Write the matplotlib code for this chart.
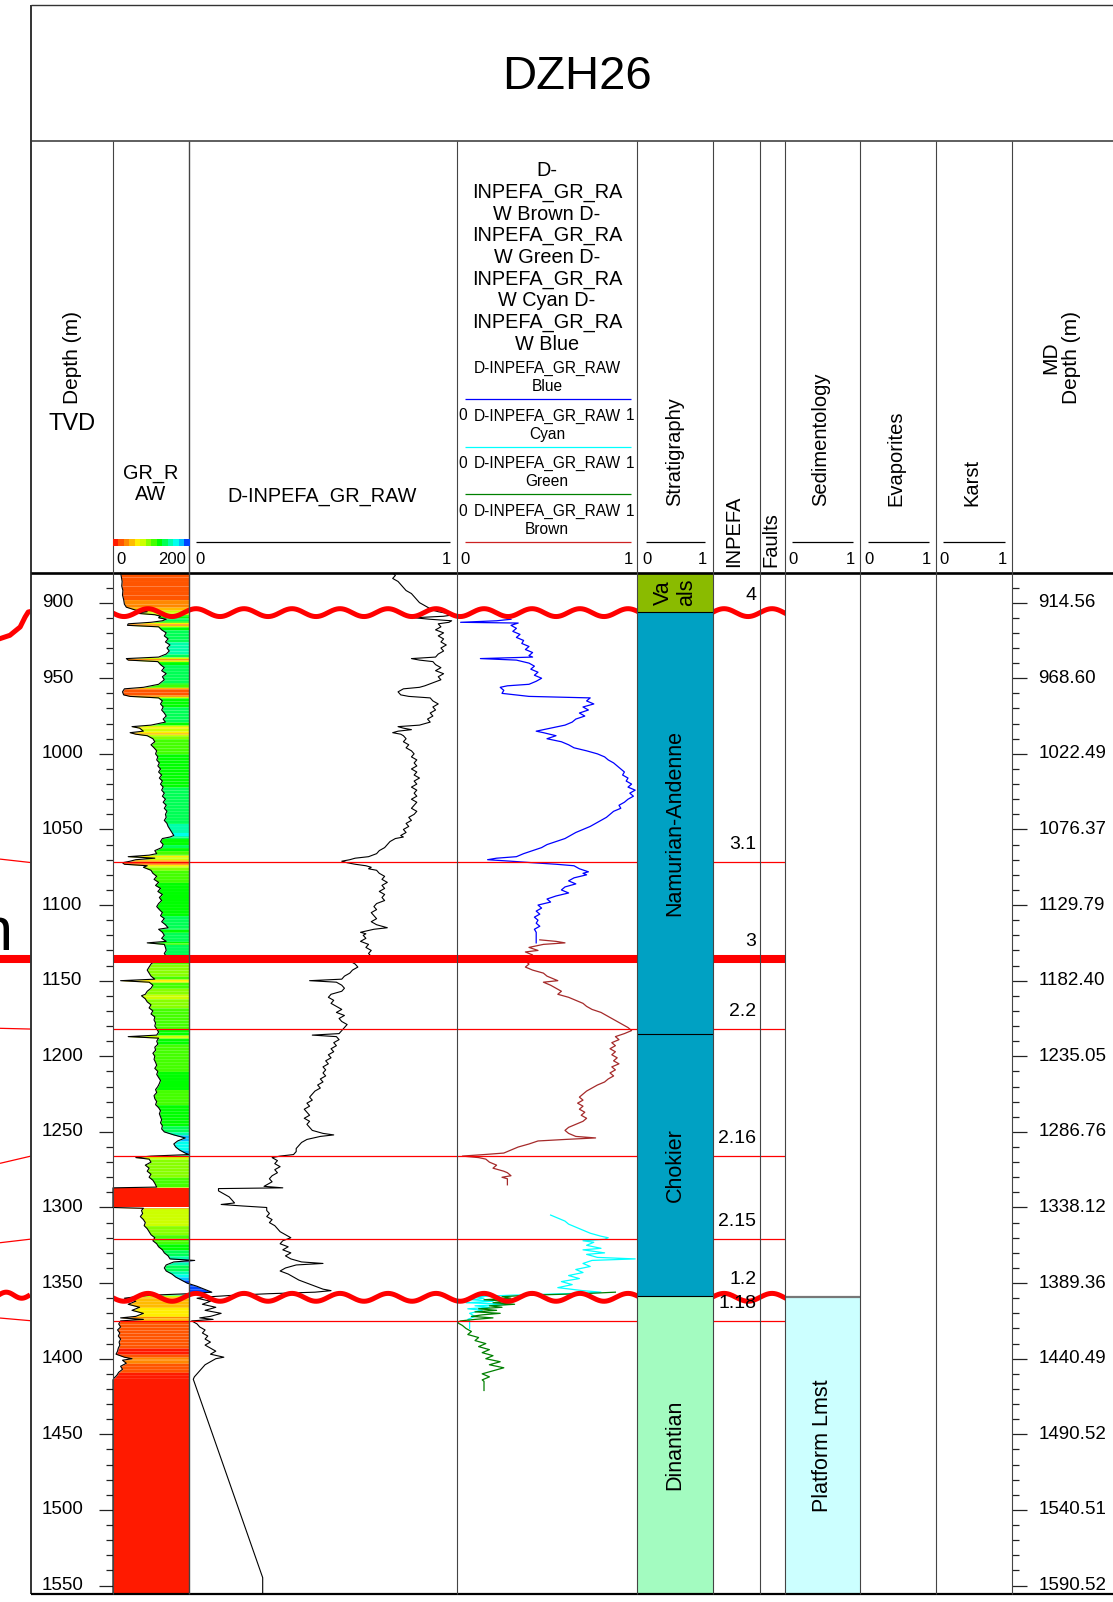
import numpy as np
import matplotlib.pyplot as plt
from matplotlib.colors import ListedColormap, BoundaryNorm

plt.rcParams['font.family'] = ['Liberation Sans', 'DejaVu Sans']

W, H = 1113, 1602
Y_TOP, Y_BOT = 573, 1594          # pixel rows of the data area
D_TOP, D_BOT = 880.4, 1555.6      # depth range shown (TVD, m)

# ---------------- data ----------------
well_name = 'DZH26'
tvd_major = np.arange(900, 1551, 50)
tvd_minor = np.arange(890, 1551, 10)
md_labels = ['914.56', '968.60', '1022.49', '1076.37', '1129.79', '1182.40', '1235.05',
             '1286.76', '1338.12', '1389.36', '1440.49', '1490.52', '1540.51', '1590.52']

# GR_RAW (depth, API)
gr_raw = [
    (880.4, 20), (883, 22), (886, 24), (889, 23), (892, 26), (895, 25), (898, 28), (901, 30),
    (903, 35), (905, 60), (906, 90), (907, 60), (908, 110), (909, 125), (910, 120), (911, 140),
    (912, 130), (913, 100), (914, 40), (915, 38), (916, 120), (918, 128), (920, 140), (922, 135),
    (924, 145), (926, 138), (928, 150), (930, 142), (932, 148), (934, 140), (936, 120), (937, 35),
    (938, 40), (939, 118), (941, 125), (943, 135), (945, 128), (947, 140), (949, 130), (951, 135),
    (953, 125), (954, 120), (956, 80), (957, 30), (959, 25), (961, 28), (962, 45), (963, 120),
    (965, 130), (967, 125), (969, 132), (971, 128), (973, 135), (975, 140), (977, 132), (979, 138),
    (981, 100), (982, 50), (983, 70), (985, 80), (986, 45), (987, 60), (988, 90), (990, 105),
    (992, 110), (994, 100), (996, 108), (998, 115), (1000, 112), (1002, 118), (1004, 115),
    (1006, 122), (1008, 118), (1010, 125), (1012, 120), (1014, 128), (1016, 122), (1018, 130),
    (1020, 125), (1022, 132), (1024, 128), (1026, 135), (1028, 130), (1030, 138), (1032, 132),
    (1034, 140), (1036, 135), (1038, 142), (1040, 138), (1042, 140), (1044, 135), (1046, 142),
    (1048, 145), (1050, 150), (1052, 155), (1054, 160), (1055, 150), (1056, 130), (1058, 125),
    (1060, 132), (1062, 128), (1064, 110), (1066, 115), (1067, 95), (1068, 40), (1069, 110),
    (1070, 60), (1071, 45), (1072, 25), (1073, 30), (1074, 90), (1075, 80), (1077, 100),
    (1079, 105), (1081, 115), (1083, 108), (1085, 120), (1087, 112), (1089, 125), (1091, 118),
    (1093, 130), (1095, 122), (1097, 128), (1099, 120), (1101, 115), (1103, 122), (1105, 130),
    (1107, 125), (1109, 135), (1111, 128), (1113, 138), (1115, 145), (1116, 120), (1118, 130),
    (1120, 135), (1122, 128), (1124, 140), (1125, 90), (1126, 135), (1128, 138), (1130, 140),
    (1132, 135), (1134, 140), (1137, 110), (1139, 100), (1141, 95), (1143, 90), (1145, 95),
    (1147, 100), (1149, 110), (1150, 20), (1151, 95), (1153, 105), (1155, 100), (1157, 90),
    (1159, 85), (1160, 75), (1162, 85), (1164, 90), (1166, 100), (1168, 95), (1170, 105),
    (1172, 100), (1174, 110), (1176, 108), (1178, 112), (1180, 110), (1182, 115), (1184, 120),
    (1186, 115), (1187, 40), (1188, 120), (1190, 115), (1192, 118), (1194, 110), (1196, 112),
    (1198, 105), (1200, 110), (1202, 108), (1204, 112), (1206, 115), (1208, 110), (1210, 118),
    (1212, 115), (1214, 120), (1216, 125), (1218, 122), (1220, 118), (1222, 112), (1224, 115),
    (1226, 108), (1228, 110), (1230, 115), (1232, 112), (1234, 120), (1236, 125), (1238, 122),
    (1240, 125), (1242, 128), (1244, 125), (1246, 130), (1248, 128), (1250, 135), (1252, 160),
    (1254, 190), (1256, 170), (1258, 160), (1260, 165), (1262, 175), (1264, 190), (1265, 200),
    (1266, 100), (1267, 60), (1268, 95), (1270, 100), (1272, 85), (1274, 95), (1276, 90),
    (1278, 100), (1280, 95), (1282, 105), (1284, 110), (1286.5, 115), (1287, 0), (1300, 0),
    (1300.5, 80), (1302, 75), (1304, 78), (1306, 72), (1308, 80), (1310, 85), (1312, 82),
    (1314, 90), (1316, 95), (1318, 100), (1320, 110), (1322, 105), (1324, 115), (1326, 120),
    (1328, 130), (1330, 135), (1332, 145), (1334, 150), (1335, 215), (1336, 160), (1338, 140),
    (1340, 135), (1342, 140), (1344, 155), (1346, 165), (1348, 180), (1350, 195), (1352, 220),
    (1354, 240), (1356, 260), (1357, 200), (1358, 100), (1359, 60), (1360, 30), (1362, 60),
    (1364, 40), (1366, 70), (1368, 50), (1370, 80), (1372, 60), (1373, 20), (1374, 80),
    (1375, 20), (1377, 15), (1379, 20), (1381, 12), (1383, 18), (1385, 14), (1387, 20),
    (1389, 16), (1391, 18), (1393, 14), (1395, 12), (1397, 8), (1399, 30), (1400, 50),
    (1401, 25), (1403, 35), (1405, 20), (1407, 25), (1409, 15), (1411, 10), (1413, 2),
    (1414, 0), (1555.6, 0),
]

# D-INPEFA_GR_RAW (depth, 0-1)
inpefa = [
    (880.4, 0.76), (882, 0.77), (884, 0.76), (886, 0.78), (888, 0.79), (890, 0.80), (892, 0.81),
    (894, 0.83), (896, 0.84), (898, 0.85), (900, 0.86), (902, 0.88), (904, 0.90), (905, 0.91),
    (906, 0.93), (907, 0.96), (908, 0.99), (909, 0.95), (910, 0.84), (911, 0.90), (912, 0.98),
    (913, 0.97), (914, 0.93), (916, 0.94), (918, 0.92), (920, 0.95), (922, 0.93), (924, 0.95),
    (926, 0.94), (928, 0.96), (930, 0.94), (932, 0.95), (934, 0.93), (936, 0.92), (937, 0.83),
    (938, 0.86), (939, 0.91), (941, 0.92), (943, 0.94), (945, 0.92), (947, 0.95), (949, 0.93),
    (951, 0.94), (953, 0.91), (955, 0.88), (956, 0.86), (957, 0.80), (959, 0.78), (961, 0.79),
    (962, 0.82), (963, 0.90), (965, 0.91), (967, 0.93), (969, 0.91), (971, 0.92), (973, 0.90),
    (975, 0.91), (977, 0.89), (979, 0.90), (981, 0.86), (982, 0.78), (983, 0.80), (984, 0.83),
    (985, 0.78), (986, 0.76), (987, 0.79), (988, 0.80), (990, 0.81), (992, 0.80), (994, 0.82),
    (996, 0.81), (998, 0.83), (1000, 0.84), (1002, 0.83), (1004, 0.85), (1006, 0.84),
    (1008, 0.85), (1010, 0.83), (1012, 0.85), (1014, 0.84), (1016, 0.86), (1018, 0.84),
    (1020, 0.85), (1022, 0.83), (1024, 0.85), (1026, 0.84), (1028, 0.85), (1030, 0.83),
    (1032, 0.85), (1034, 0.84), (1036, 0.83), (1038, 0.85), (1040, 0.84), (1042, 0.82),
    (1044, 0.83), (1046, 0.81), (1048, 0.82), (1050, 0.80), (1052, 0.81), (1054, 0.79),
    (1055, 0.80), (1056, 0.77), (1058, 0.75), (1060, 0.74), (1062, 0.73), (1064, 0.71),
    (1066, 0.70), (1068, 0.67), (1069, 0.62), (1070, 0.60), (1071, 0.57), (1072, 0.59),
    (1073, 0.62), (1074, 0.66), (1075, 0.68), (1076, 0.67), (1077, 0.70), (1079, 0.71),
    (1081, 0.73), (1083, 0.72), (1085, 0.74), (1087, 0.72), (1089, 0.73), (1091, 0.71),
    (1093, 0.73), (1095, 0.72), (1097, 0.73), (1099, 0.70), (1101, 0.69), (1103, 0.70),
    (1105, 0.68), (1107, 0.69), (1109, 0.70), (1111, 0.68), (1113, 0.70), (1115, 0.74),
    (1116, 0.69), (1118, 0.64), (1119, 0.66), (1120, 0.65), (1122, 0.66), (1124, 0.64),
    (1126, 0.67), (1128, 0.66), (1130, 0.68), (1132, 0.67), (1134, 0.68), (1137, 0.60),
    (1139, 0.62), (1141, 0.63), (1143, 0.61), (1145, 0.60), (1147, 0.58), (1149, 0.57),
    (1150, 0.45), (1151, 0.55), (1153, 0.57), (1155, 0.58), (1157, 0.57), (1159, 0.53),
    (1161, 0.52), (1163, 0.54), (1165, 0.53), (1167, 0.55), (1169, 0.57), (1171, 0.55),
    (1173, 0.58), (1175, 0.56), (1177, 0.57), (1179, 0.59), (1181, 0.58), (1183, 0.57),
    (1185, 0.56), (1186, 0.46), (1187, 0.55), (1189, 0.56), (1191, 0.54), (1193, 0.55),
    (1195, 0.53), (1197, 0.54), (1199, 0.52), (1201, 0.53), (1203, 0.51), (1205, 0.52),
    (1207, 0.50), (1209, 0.51), (1211, 0.50), (1213, 0.51), (1215, 0.49), (1217, 0.50),
    (1219, 0.48), (1221, 0.49), (1223, 0.47), (1225, 0.46), (1227, 0.45), (1229, 0.46),
    (1231, 0.44), (1233, 0.45), (1235, 0.43), (1237, 0.44), (1239, 0.45), (1241, 0.43),
    (1243, 0.45), (1245, 0.44), (1247, 0.45), (1249, 0.46), (1251, 0.50), (1252, 0.54),
    (1253, 0.49), (1255, 0.44), (1257, 0.42), (1259, 0.41), (1261, 0.40), (1263, 0.40),
    (1265, 0.39), (1266, 0.34), (1267, 0.31), (1269, 0.33), (1271, 0.32), (1273, 0.34),
    (1275, 0.32), (1277, 0.33), (1279, 0.31), (1281, 0.30), (1283, 0.31), (1285, 0.29),
    (1286, 0.28), (1287, 0.35), (1287.5, 0.11), (1289, 0.11), (1291, 0.13), (1293, 0.15),
    (1295, 0.16), (1297, 0.17), (1298, 0.12), (1299, 0.20), (1300, 0.29), (1302, 0.29),
    (1304, 0.30), (1306, 0.29), (1308, 0.31), (1310, 0.30), (1312, 0.32), (1314, 0.33),
    (1316, 0.34), (1318, 0.36), (1320, 0.38), (1322, 0.35), (1324, 0.34), (1326, 0.37),
    (1328, 0.35), (1330, 0.38), (1332, 0.36), (1334, 0.38), (1336, 0.42), (1337, 0.50),
    (1338, 0.40), (1340, 0.36), (1342, 0.34), (1344, 0.37), (1346, 0.39), (1348, 0.41),
    (1350, 0.44), (1352, 0.47), (1354, 0.50), (1355, 0.53), (1356, 0.47), (1357, 0.30),
    (1358, 0.17), (1359, 0.08), (1360, 0.03), (1362, 0.08), (1364, 0.05), (1366, 0.10),
    (1368, 0.06), (1370, 0.12), (1372, 0.08), (1373, 0.04), (1374, 0.09), (1375, 0.01),
    (1377, 0.03), (1379, 0.04), (1381, 0.06), (1383, 0.05), (1385, 0.07), (1387, 0.06),
    (1389, 0.08), (1391, 0.06), (1393, 0.08), (1395, 0.10), (1397, 0.08), (1399, 0.13),
    (1400, 0.10), (1402, 0.08), (1404, 0.06), (1406, 0.05), (1408, 0.04), (1410, 0.03),
    (1412, 0.02), (1413.6, 0.016), (1544.8, 0.275), (1555.6, 0.275),
]

# coloured D-INPEFA segments (depth, 0-1)
inpefa_blue = [
    (911, 0.30), (912, 0.22), (913, 0.02), (913.5, 0.34), (915, 0.30), (917, 0.33), (919, 0.31),
    (921, 0.35), (923, 0.33), (925, 0.37), (927, 0.36), (929, 0.40), (931, 0.38), (933, 0.42),
    (935, 0.40), (936, 0.42), (937, 0.13), (938, 0.33), (940, 0.40), (942, 0.43), (944, 0.41),
    (946, 0.45), (948, 0.43), (950, 0.47), (952, 0.44), (954, 0.40), (955, 0.28), (956, 0.24),
    (958, 0.26), (960, 0.25), (962, 0.40), (963, 0.74), (965, 0.72), (967, 0.76), (969, 0.70),
    (971, 0.73), (973, 0.68), (975, 0.71), (977, 0.66), (979, 0.64), (981, 0.60), (983, 0.52),
    (985, 0.44), (986, 0.48), (988, 0.55), (990, 0.50), (992, 0.58), (994, 0.62), (996, 0.65),
    (998, 0.72), (1000, 0.78), (1002, 0.82), (1004, 0.84), (1006, 0.87), (1008, 0.89),
    (1010, 0.91), (1012, 0.93), (1014, 0.92), (1016, 0.95), (1018, 0.94), (1020, 0.97),
    (1022, 0.95), (1024, 0.99), (1026, 0.96), (1028, 0.98), (1030, 0.95), (1032, 0.93),
    (1034, 0.90), (1036, 0.91), (1038, 0.87), (1040, 0.85), (1042, 0.83), (1044, 0.80),
    (1046, 0.77), (1048, 0.74), (1050, 0.70), (1052, 0.66), (1054, 0.63), (1056, 0.60),
    (1058, 0.55), (1060, 0.50), (1062, 0.47), (1064, 0.42), (1066, 0.37), (1068, 0.33),
    (1069, 0.22), (1070, 0.17), (1071, 0.30), (1072, 0.42), (1073, 0.55), (1074, 0.65),
    (1076, 0.68), (1078, 0.73), (1079, 0.70), (1080, 0.72), (1082, 0.65), (1084, 0.62),
    (1086, 0.66), (1088, 0.60), (1090, 0.58), (1092, 0.62), (1094, 0.55), (1096, 0.50),
    (1098, 0.52), (1100, 0.45), (1102, 0.47), (1104, 0.44), (1106, 0.46), (1108, 0.43),
    (1110, 0.45), (1112, 0.44), (1114, 0.46), (1116, 0.43), (1118, 0.44), (1125, 0.44),
]
inpefa_brown = [
    (1123, 0.46), (1124, 0.55), (1125, 0.60), (1126, 0.48), (1128, 0.40), (1130, 0.45),
    (1131, 0.38), (1133, 0.42), (1135, 0.40), (1137, 0.38), (1139, 0.40), (1141, 0.38),
    (1143, 0.42), (1145, 0.48), (1147, 0.50), (1149, 0.54), (1150, 0.56), (1151, 0.48),
    (1153, 0.52), (1155, 0.55), (1157, 0.58), (1159, 0.56), (1161, 0.62), (1163, 0.66),
    (1165, 0.70), (1167, 0.72), (1169, 0.75), (1171, 0.80), (1173, 0.83), (1175, 0.86),
    (1177, 0.89), (1179, 0.92), (1181, 0.95), (1183, 0.97), (1185, 0.93), (1187, 0.88),
    (1189, 0.90), (1191, 0.86), (1193, 0.88), (1195, 0.85), (1197, 0.88), (1199, 0.86),
    (1201, 0.89), (1203, 0.87), (1205, 0.90), (1207, 0.86), (1209, 0.88), (1211, 0.85),
    (1213, 0.87), (1215, 0.84), (1217, 0.82), (1219, 0.78), (1221, 0.75), (1223, 0.72),
    (1225, 0.70), (1227, 0.68), (1229, 0.70), (1231, 0.67), (1233, 0.70), (1235, 0.68),
    (1237, 0.71), (1239, 0.69), (1241, 0.72), (1243, 0.70), (1245, 0.66), (1247, 0.62),
    (1249, 0.60), (1251, 0.62), (1253, 0.66), (1254, 0.77), (1255, 0.60), (1256, 0.45),
    (1258, 0.40), (1260, 0.34), (1262, 0.30), (1264, 0.26), (1265, 0.15), (1266, 0.03),
    (1267, 0.12), (1268, 0.16), (1270, 0.18), (1272, 0.22), (1274, 0.20), (1276, 0.26),
    (1277, 0.28), (1279, 0.30), (1280, 0.25), (1281, 0.28), (1285, 0.28),
]
inpefa_cyan = [
    (1305, 0.52), (1307, 0.56), (1309, 0.60), (1311, 0.62), (1313, 0.66), (1315, 0.70),
    (1317, 0.74), (1319, 0.80), (1320, 0.84), (1321, 0.82), (1322, 0.70), (1323, 0.76),
    (1325, 0.72), (1327, 0.80), (1328, 0.70), (1330, 0.82), (1331, 0.72), (1333, 0.78),
    (1334, 0.99), (1335, 0.75), (1337, 0.70), (1339, 0.74), (1341, 0.66), (1343, 0.70),
    (1345, 0.62), (1347, 0.68), (1349, 0.58), (1351, 0.64), (1353, 0.56), (1355, 0.70),
    (1356, 0.80), (1357, 0.60), (1358, 0.30), (1359, 0.10), (1360, 0.15), (1361, 0.08),
    (1362, 0.20), (1363, 0.05), (1364, 0.30), (1365, 0.10), (1366, 0.18), (1367, 0.06),
    (1368, 0.14), (1370, 0.07), (1372, 0.10), (1374, 0.06), (1375, 0.07), (1380, 0.07),
]
inpefa_green = [
    (1356, 0.88), (1357, 0.70), (1358, 0.40), (1359, 0.25), (1360, 0.30), (1361, 0.15),
    (1362, 0.28), (1363, 0.20), (1364, 0.32), (1365, 0.18), (1366, 0.25), (1367, 0.12),
    (1368, 0.22), (1369, 0.10), (1370, 0.24), (1371, 0.14), (1372, 0.08), (1373, 0.20),
    (1374, 0.10), (1375, 0.02), (1376, 0.0), (1378, 0.03), (1380, 0.05), (1382, 0.08),
    (1384, 0.06), (1386, 0.12), (1388, 0.10), (1390, 0.16), (1392, 0.12), (1394, 0.18),
    (1396, 0.14), (1398, 0.20), (1400, 0.16), (1402, 0.24), (1404, 0.18), (1406, 0.26),
    (1408, 0.20), (1410, 0.14), (1412, 0.18), (1414, 0.14), (1415, 0.15), (1421, 0.15),
]

# stratigraphy
strat_names = ['Va\nals', 'Namurian-Andenne', 'Chokier', 'Dinantian']
strat_tops = [880.4, 906.0, 1185.2, 1358.8]
strat_bases = [906.0, 1185.2, 1358.8, 1555.6]
strat_colors = ['#8abb00', '#00a1c3', '#00a1c3', '#a3fbc0']

# INPEFA boundaries
bound_labels = ['4', '3.1', '3', '2.2', '2.16', '2.15', '1.2', '1.18']
bound_depths = [906.6, 1071.5, 1135.5, 1182.0, 1266.0, 1321.0, 1359.4, 1375.0]
bound_styles = ['wavy', 'thin', 'thick', 'thin', 'thin', 'thin', 'wavy', 'thin']

# correlation lines entering from the left panel (depth at left edge, depth at frame)
corr_left = [1069.6, 1135.5, 1181.5, 1270.8, 1323.3, 1373.1]
corr_right = [1071.9, 1135.5, 1182.0, 1266.0, 1320.9, 1374.9]
corr_thick = [False, True, False, False, False, False]
corr_curve_x = [0.0, 0.32, 0.65, 0.81, 0.91, 1.0]
corr_curve_d = [923.8, 921.6, 916.1, 909.5, 906.2, 905.8]

# sedimentology
sed_label = 'Platform Lmst'
sed_top = 1359.0

# GR colour scale
gr_colors = ['#ff1a00', '#ff5500', '#ff8800', '#ffbb00', '#ffee00', '#ccff00', '#88ff00',
             '#44ff00', '#00ff00', '#00ff55', '#00ffaa', '#00ffee', '#00bbff', '#0044ff']

# ---------------- figure ----------------
fig = plt.figure(figsize=(W / 100, H / 100), dpi=100)
fig.patch.set_facecolor('white')


def add_track(x0, x1, zorder=1, y0=Y_TOP, y1=Y_BOT):
    ax = fig.add_axes([x0 / W, 1 - y1 / H, (x1 - x0) / W, (y1 - y0) / H], zorder=zorder)
    ax.set_ylim(D_BOT, D_TOP)
    ax.set_facecolor('none')
    return ax


# TVD depth track
ax_tvd = add_track(31, 113)
for s in ax_tvd.spines.values():
    s.set_visible(False)
ax_tvd.set_xticks([])
ax_tvd.yaxis.set_ticks_position('right')
ax_tvd.set_yticks(tvd_major)
ax_tvd.set_yticks(tvd_minor, minor=True)
ax_tvd.tick_params(axis='y', which='major', direction='in', length=10, width=0.9,
                   color='#222222', labelright=False, labelleft=False)
ax_tvd.tick_params(axis='y', which='minor', direction='in', length=5, width=0.9, color='#222222')
for d in tvd_major:
    ax_tvd.text(0.134, d, str(d), transform=ax_tvd.get_yaxis_transform(),
                ha='left', va='center', fontsize=13.5)

# GR track with value-coloured fill
cmap = ListedColormap(gr_colors)
norm = BoundaryNorm(np.linspace(0, 200, len(gr_colors) + 1), len(gr_colors), clip=True)
ax_gr = add_track(113, 189)
ax_gr.set_xlim(0, 200)
ax_gr.axis('off')
gr = np.array(gr_raw)
for i in range(len(gr) - 1):
    v = 0.5 * (gr[i, 1] + gr[i + 1, 1])
    ax_gr.fill_betweenx(gr[i:i + 2, 0], gr[i:i + 2, 1], 200, color=cmap(norm(v)),
                        lw=0, clip_on=False)
ax_gr.plot(gr[:, 1], gr[:, 0], color='black', lw=0.8, clip_on=False)

# D-INPEFA track
ax_inp = add_track(189, 457)
ax_inp.set_xlim(0, 1)
ax_inp.axis('off')
ip = np.array(inpefa)
ax_inp.plot(ip[:, 1], ip[:, 0], color='black', lw=0.8)

# coloured D-INPEFA track
ax_col = add_track(457, 637)
ax_col.set_xlim(0, 1)
ax_col.axis('off')
for seg, c in [(inpefa_blue, '#0000ff'), (inpefa_brown, '#a52a2a'),
               (inpefa_cyan, '#00ffff'), (inpefa_green, '#008000')]:
    a = np.array(seg)
    ax_col.plot(a[:, 1], a[:, 0], color=c, lw=0.9)

# boundary lines
ax_red = add_track(113, 785, zorder=2)
ax_red.set_xlim(113, 785)
ax_red.axis('off')
xs = np.linspace(113, 785, 3000)
for d, st in zip(bound_depths, bound_styles):
    if st == 'wavy':
        ax_red.plot(xs, d - 2.6 * np.cos(2 * np.pi * (xs - 148) / 48), color='#ff0000', lw=3.6)
    elif st == 'thick':
        ax_red.plot([113, 785], [d, d], color='#ff0000', lw=5.8, solid_capstyle='butt')
    else:
        ax_red.plot([113, 785], [d, d], color='#ff0000', lw=0.9)

# correlation lines on the left edge
ax_left = add_track(0, 31)
ax_left.set_xlim(0, 1)
ax_left.axis('off')
for dl, dr, th in zip(corr_left, corr_right, corr_thick):
    ax_left.plot([0, 1], [dl, dr], color='#ff0000', lw=5.8 if th else 0.9, solid_capstyle='butt')
ax_left.plot(corr_curve_x, corr_curve_d, color='#ff0000', lw=3.6)
xw = np.linspace(0, 0.9, 50)
ax_left.plot(xw, 1358.0 - 2.0 * np.cos(np.pi * (xw - 0.2) / 0.5), color='#ff0000', lw=3.6)

# stratigraphy
ax_strat = add_track(637, 713, zorder=3)
ax_strat.set_xlim(0, 1)
ax_strat.axis('off')
for name, top, base, c in zip(strat_names, strat_tops, strat_bases, strat_colors):
    ax_strat.fill_between([0, 1], top, base, color=c, lw=0)
    ax_strat.plot([0, 1], [base, base], color='black', lw=0.8)
    ax_strat.text(0.5, (top + base) / 2, name, rotation=90, ha='center', va='center',
                  fontsize=15.5, linespacing=1.1)

# INPEFA value labels
ax_num = add_track(713, 760, zorder=3)
ax_num.set_xlim(0, 1)
ax_num.axis('off')
for lab, d in zip(bound_labels, bound_depths):
    ax_num.text(0.92, d - 11.5, lab, ha='right', va='center', fontsize=14)

# sedimentology
ax_sed = add_track(785, 860, zorder=3)
ax_sed.set_xlim(0, 1)
ax_sed.axis('off')
ax_sed.fill_between([0, 1], sed_top, D_BOT, color='#ccffff', lw=0)
ax_sed.plot([0, 1], [sed_top, sed_top], color='#777777', lw=1.6)
ax_sed.text(0.5, (sed_top + D_BOT) / 2, sed_label, rotation=90, ha='center', va='center',
            fontsize=15.5)

# MD depth track
ax_md = add_track(1012, 1113)
for s in ax_md.spines.values():
    s.set_visible(False)
ax_md.set_xticks([])
ax_md.yaxis.set_ticks_position('left')
ax_md.set_yticks(tvd_major)
ax_md.set_yticks(tvd_minor, minor=True)
ax_md.tick_params(axis='y', which='major', direction='in', length=10.5, width=0.9,
                  color='#222222', labelleft=False, labelright=False)
ax_md.tick_params(axis='y', which='minor', direction='in', length=5, width=0.9, color='#222222')
for d, lab in zip(tvd_major, md_labels):
    ax_md.text(0.26, d, lab, transform=ax_md.get_yaxis_transform(),
               ha='left', va='center', fontsize=13.5)

# ---------------- overlay: frame, headers ----------------
ov = fig.add_axes([0, 0, 1, 1], zorder=10)
ov.set_xlim(0, W)
ov.set_ylim(H, 0)
ov.axis('off')


def hline(y, x0, x1, lw=0.8, c='#333333'):
    ov.plot([x0, x1], [y, y], color=c, lw=lw, solid_capstyle='butt')


def vline(x, y0, y1, lw=0.8, c='#444444'):
    ov.plot([x, x], [y0, y1], color=c, lw=lw, solid_capstyle='butt')


hline(5, 31, W, lw=1.0)
vline(31, 5, Y_BOT, lw=1.4, c='#333333')
hline(141, 31, W, lw=1.1)
hline(Y_TOP, 31, W, lw=1.9, c='black')
hline(Y_BOT, 31, W, lw=1.6, c='black')
for x in [113, 189, 457, 637, 713, 760, 785, 860, 936, 1012]:
    vline(x, 141, Y_BOT, lw=1.0 if x == 189 else 0.8)

ov.text(577, 72, well_name, ha='center', va='center_baseline', fontsize=34)

# depth header
ov.text(72, 358, 'Depth (m)', rotation=90, ha='center', va='center', fontsize=15)
ov.text(72, 424, 'TVD', ha='center', va='center', fontsize=17)

# GR header with colour bar
ov.text(151, 484, 'GR_R\nAW', ha='center', va='center', fontsize=14.3, linespacing=1.15)
ax_cb = fig.add_axes([113 / W, 1 - 546 / H, 76 / W, 7 / H], zorder=11)
ax_cb.imshow(np.arange(len(gr_colors))[None, :], cmap=cmap, aspect='auto')
ax_cb.axis('off')
ov.text(121, 559, '0', ha='center', va='center', fontsize=12)
ov.text(186, 559, '200', ha='right', va='center', fontsize=12)

# D-INPEFA header
ov.text(322, 496, 'D-INPEFA_GR_RAW', ha='center', va='center', fontsize=14.3)
hline(542, 196, 450, lw=0.9, c='black')
ov.text(195, 559, '0', ha='left', va='center', fontsize=12)
ov.text(451, 559, '1', ha='right', va='center', fontsize=12)

# coloured D-INPEFA header
big = 'D-\nINPEFA_GR_RA\nW Brown D-\nINPEFA_GR_RA\nW Green D-\nINPEFA_GR_RA\nW Cyan D-\nINPEFA_GR_RA\nW Blue'
ov.text(547, 257.5, big, ha='center', va='center', fontsize=14.3, linespacing=1.17)
sub_names = ['Blue', 'Cyan', 'Green', 'Brown']
sub_colors = ['#0000ff', '#00ffff', '#008000', '#cc2222']
sub_y = [368, 416, 463, 511]
for k, (nm, c, y) in enumerate(zip(sub_names, sub_colors, sub_y)):
    ov.text(547, y, 'D-INPEFA_GR_RAW', ha='center', va='center', fontsize=11.2)
    ov.text(547, y + 18.5, nm, ha='center', va='center', fontsize=11.2)
    hline(y + 31, 465, 631, lw=0.9, c=c)
    if k > 0:
        ov.text(463, y, '0', ha='center', va='center', fontsize=11.2)
        ov.text(630, y, '1', ha='center', va='center', fontsize=11.2)
ov.text(460, 559, '0', ha='left', va='center', fontsize=12)
ov.text(633, 559, '1', ha='right', va='center', fontsize=12)

# rotated track headers
for x, yb, lab in [(675, 506, 'Stratigraphy'), (734, 567, 'INPEFA'), (771, 567, 'Faults'),
                   (821, 506, 'Sedimentology'), (896, 506, 'Evaporites'), (972, 506, 'Karst')]:
    ov.text(x, yb, lab, rotation=90, ha='center', va='bottom', fontsize=14.5)
for x0, x1 in [(646, 705), (792, 853), (868, 929), (943, 1005)]:
    hline(542, x0, x1, lw=0.9, c='black')
    ov.text(x0 - 4, 559, '0', ha='left', va='center', fontsize=12)
    ov.text(x1 + 2, 559, '1', ha='right', va='center', fontsize=12)

ov.text(1061, 358, 'MD\nDepth (m)', rotation=90, ha='center', va='center', fontsize=15,
        linespacing=1.1)

# fragment of the neighbouring panel's label (cut by the left edge, as in the source)
ov.text(13, 950, 'n', ha='right', va='baseline', fontsize=44)

fig.savefig('out.png', dpi=100)
